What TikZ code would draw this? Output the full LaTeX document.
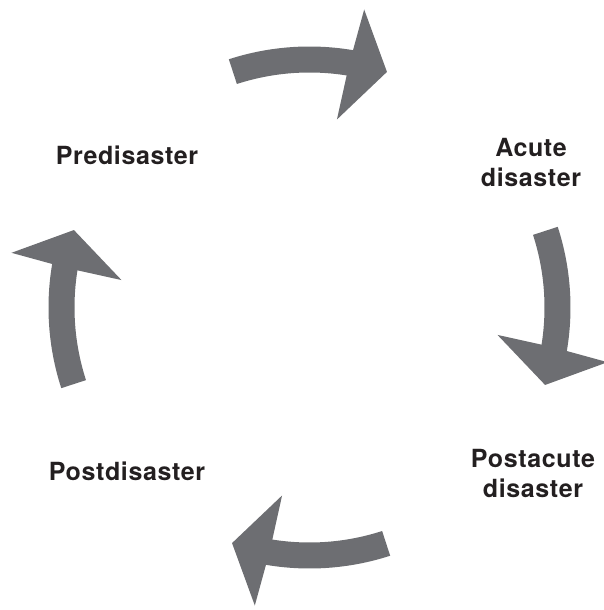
\documentclass[tikz,border=0pt]{standalone}
\usepackage{fontspec}
\setmainfont{TeX Gyre Heros}[LetterSpace=2.5]
\definecolor{arrowgray}{RGB}{109,110,114}
\definecolor{labelink}{RGB}{35,31,32}

% Curved block arrow on the cycle circle, starting at tail angle #1
\newcommand{\cyclearrow}[1]{%
  \fill[arrowgray]
    (#1:261) arc[start angle=#1, end angle=#1-27.6, radius=261]
    -- (#1-28.4:303) -- (#1-36.2:248) -- (#1-26.3:190)
    -- (#1-27.1:235) arc[start angle=#1-27.1, end angle=#1, radius=235]
    -- cycle;}

\begin{document}
\begin{tikzpicture}[x=1pt,y=1pt,
  phase/.style={font=\fontsize{25}{30}\selectfont\bfseries, text=labelink,
    align=center, inner sep=0pt, anchor=base}]
\useasboundingbox (-309.5,-302.5) rectangle (294.5,307.5);

\cyclearrow{108}
\cyclearrow{18}
\cyclearrow{-72}
\cyclearrow{-162}

% base anchor sits on the last line of each label
\node[phase] (pre)  at (-182.5,142.5) {Predisaster};
\node[phase] (acute) at (221.5,120.5) {Acute\\disaster};
\node[phase] (postacute) at (223.5,-189.5) {Postacute\\disaster};
\node[phase] (post) at (-182.5,-172.5) {Postdisaster};
\end{tikzpicture}
\end{document}
